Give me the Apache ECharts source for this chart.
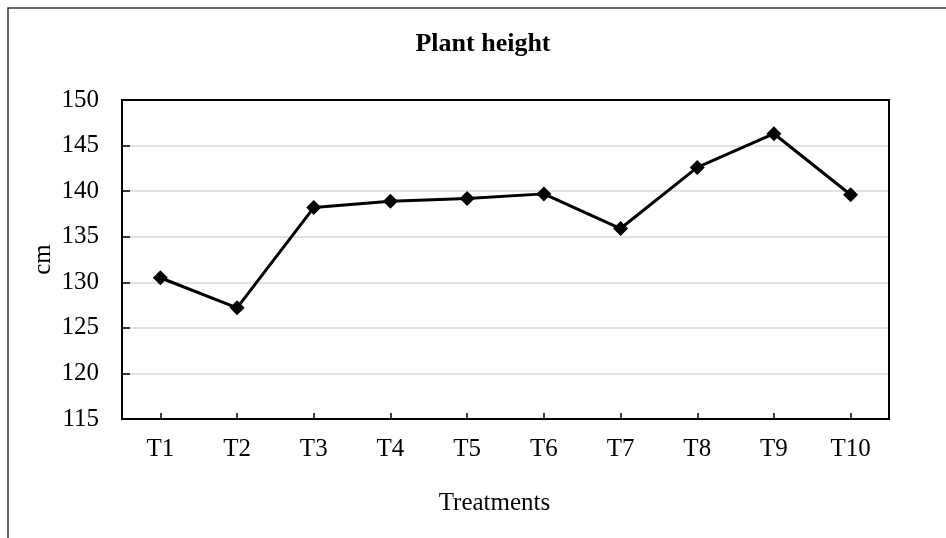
<!DOCTYPE html>
<html>
<head>
<meta charset="utf-8">
<script src="https://cdn.jsdelivr.net/npm/echarts@6/dist/echarts.min.js"></script>
<style>
  html, body { margin: 0; padding: 0; background: #fff; }
  #chart { width: 946px; height: 538px; }
</style>
</head>
<body>
<div id="chart"></div>
<script>
// data
const treatments = ["T1", "T2", "T3", "T4", "T5", "T6", "T7", "T8", "T9", "T10"];
const plantHeight = [130.5, 127.2, 138.2, 138.9, 139.2, 139.7, 135.9, 142.6, 146.3, 139.6];
const yMin = 115;
const yMax = 150;
const yStep = 5;

const font = "Liberation Serif, Times New Roman, serif";

const myChart = echarts.init(document.getElementById("chart"));
const option = {
  backgroundColor: "#fff",
  animation: false,
  title: {
    text: "Plant height",
    left: 478,
    top: 26,
    textAlign: "center",
    textStyle: {
      fontFamily: font,
      fontWeight: "bold",
      fontSize: 26,
      color: "#000",
    },
  },
  graphic: [
    {
      type: "rect",
      shape: { x: 8, y: 8, width: 980, height: 580 },
      style: { fill: null, stroke: "#333", lineWidth: 1.5 },
      silent: true,
    },
    {
      // plot area frame on top of the grid lines
      type: "rect",
      z: 50,
      shape: { x: 122, y: 100, width: 767, height: 319 },
      style: { fill: null, stroke: "#000", lineWidth: 2 },
      silent: true,
    },
  ],
  grid: {
    left: 122,
    right: 57,
    top: 100,
    bottom: 119,
  },
  xAxis: {
    type: "category",
    data: treatments,
    name: "Treatments",
    nameLocation: "middle",
    nameGap: 72,
    nameTextStyle: {
      fontFamily: font,
      fontSize: 25,
      color: "#000",
      padding: [0, 22, 0, 0],
    },
    axisLine: { lineStyle: { color: "#000", width: 2 } },
    axisTick: {
      show: true,
      inside: true,
      length: 6,
      alignWithLabel: true,
      lineStyle: { color: "#000", width: 1.5 },
    },
    axisLabel: {
      fontFamily: font,
      fontSize: 25,
      color: "#000",
      margin: 18,
    },
  },
  yAxis: {
    type: "value",
    min: yMin,
    max: yMax,
    interval: yStep,
    name: "cm",
    nameLocation: "middle",
    nameGap: 66,
    nameMoveOverlap: false,
    nameTextStyle: {
      fontFamily: font,
      fontSize: 25,
      color: "#000",
    },
    axisLine: { show: true, lineStyle: { color: "#000", width: 2 } },
    axisTick: {
      show: true,
      inside: true,
      length: 8,
      lineStyle: { color: "#000", width: 1.5 },
    },
    axisLabel: {
      fontFamily: font,
      fontSize: 25,
      color: "#000",
      margin: 23,
    },
    splitLine: { lineStyle: { color: "#d9d9d9", width: 1.5 } },
  },
  series: [
    {
      name: "Plant height",
      type: "line",
      data: plantHeight,
      symbol: "diamond",
      symbolSize: 15,
      lineStyle: { color: "#000", width: 3 },
      itemStyle: { color: "#000" },
    },
  ],
};
myChart.setOption(option);
</script>
</body>
</html>
